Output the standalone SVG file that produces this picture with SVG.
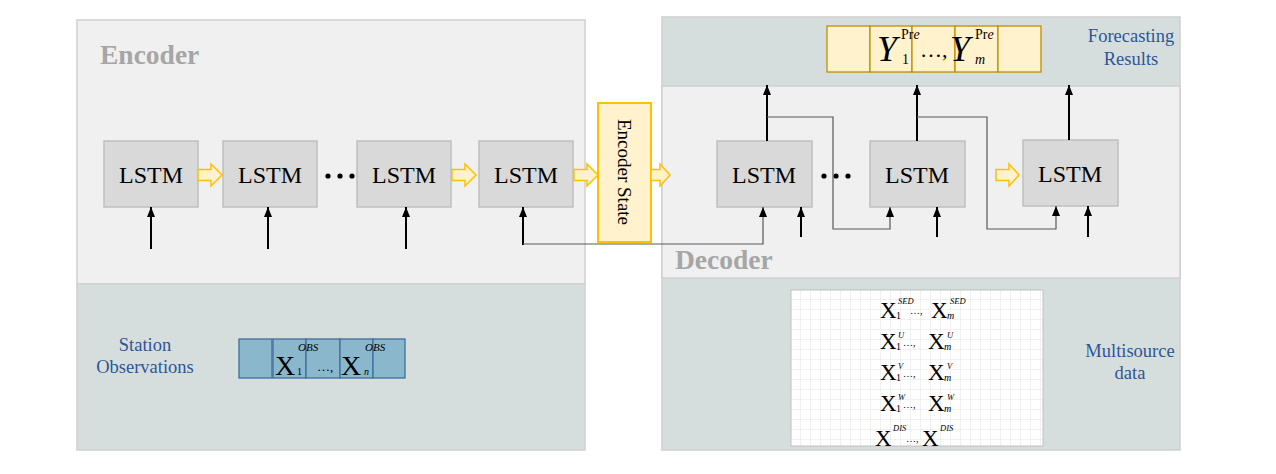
<svg xmlns="http://www.w3.org/2000/svg" width="1276" height="474" viewBox="0 0 1276 474">
<style>
.panel{fill:#f0f0f0;stroke:#d0d0d0;stroke-width:1.5}
.teal{fill:#d5dedd;stroke:#d0d0d0;stroke-width:1.5}
.lstm{fill:#d9d9d9;stroke:#bfbfbf;stroke-width:1.5}
.lt{font-family:"Liberation Serif",serif;font-size:24px;fill:#000;text-anchor:middle}
.title{font-family:"Liberation Serif",serif;font-size:27.5px;font-weight:bold;fill:#a6a6a6}
.blue{font-family:"Liberation Serif",serif;font-size:18.5px;fill:#2f5597;text-anchor:middle}
.yarrow{fill:#fff2cc;stroke:#ffc000;stroke-width:1.5}
.thick{stroke:#000;stroke-width:2;fill:none}
.thin{stroke:#595959;stroke-width:1.2;fill:none}
.m{font-family:"Liberation Serif",serif;fill:#000}
.it{font-style:italic}
.dot{fill:#000}
.X{font-size:23px}
.sb{font-size:10px}
.sp{font-size:8.5px;font-style:italic}
.el{font-size:10px}
</style>
<defs>
<marker id="ah" viewBox="0 0 10 8" refX="10" refY="4" markerUnits="userSpaceOnUse" markerWidth="11" markerHeight="8" orient="auto">
<path d="M0,0 L10,4 L0,8 z" fill="#000"/>
</marker>
<pattern id="grid" width="10" height="10" patternUnits="userSpaceOnUse" x="791" y="290">
<rect width="10" height="10" fill="#fff"/>
<path d="M10,0 L10,10 M0,10 L10,10" stroke="#e4e4e4" stroke-width="1" fill="none"/>
</pattern>
<clipPath id="msclip"><rect x="791" y="290" width="252" height="156"/></clipPath>
</defs>

<g id="encoder-panel">
<rect class="panel" x="77" y="20" width="508" height="264"/>
<text class="title" x="100" y="64">Encoder</text>
</g>
<g id="station-panel">
<rect class="teal" x="77" y="284" width="508" height="166"/>
<text class="blue" x="145" y="351">Station</text>
<text class="blue" x="145" y="373">Observations</text>
</g>
<g id="decoder-panel">
<rect class="teal" x="662" y="17" width="518" height="433"/>
<rect class="panel" x="662" y="86" width="518" height="192"/>
<text class="title" x="675" y="269">Decoder</text>
<text class="blue" x="1131" y="42">Forecasting</text>
<text class="blue" x="1131" y="65">Results</text>
<text class="blue" x="1130" y="357">Multisource</text>
<text class="blue" x="1130" y="379">data</text>
</g>

<g id="enc-lstm-1"><rect class="lstm" x="104" y="141" width="94" height="66"/><text class="lt" x="151" y="183">LSTM</text></g>
<g id="enc-lstm-2"><rect class="lstm" x="223" y="141" width="94" height="66"/><text class="lt" x="270" y="183">LSTM</text></g>
<g id="enc-lstm-3"><rect class="lstm" x="357" y="141" width="94" height="66"/><text class="lt" x="404" y="183">LSTM</text></g>
<g id="enc-lstm-4"><rect class="lstm" x="479" y="141" width="94" height="66"/><text class="lt" x="526" y="183">LSTM</text></g>
<g id="enc-dots"><circle class="dot" cx="328" cy="176" r="2.6"/><circle class="dot" cx="340" cy="176" r="2.6"/><circle class="dot" cx="352" cy="176" r="2.6"/></g>

<g id="encoder-state">
<rect x="598" y="103" width="53" height="139" fill="#fff2cc" stroke="#ffc000" stroke-width="2"/>
<text class="m" x="0" y="0" font-size="19" text-anchor="middle" transform="translate(618,172) rotate(90)">Encoder State</text>
</g>

<g id="dec-lstm-1"><rect class="lstm" x="717" y="141" width="95" height="66"/><text class="lt" x="764" y="183">LSTM</text></g>
<g id="dec-lstm-2"><rect class="lstm" x="870" y="141" width="95" height="66"/><text class="lt" x="917" y="183">LSTM</text></g>
<g id="dec-lstm-3"><rect class="lstm" x="1023" y="140" width="95" height="66"/><text class="lt" x="1070" y="182">LSTM</text></g>
<g id="dec-dots"><circle class="dot" cx="824" cy="176" r="2.6"/><circle class="dot" cx="836" cy="176" r="2.6"/><circle class="dot" cx="848" cy="176" r="2.6"/></g>

<g id="forecast-results">
<rect x="827" y="26" width="43" height="46" fill="#fff2cc" stroke="#bf9000" stroke-width="1.3"/>
<rect x="870" y="26" width="42" height="46" fill="#fff2cc" stroke="#bf9000" stroke-width="1.3"/>
<rect x="912" y="26" width="43" height="46" fill="#fff2cc" stroke="#bf9000" stroke-width="1.3"/>
<rect x="955" y="26" width="43" height="46" fill="#fff2cc" stroke="#bf9000" stroke-width="1.3"/>
<rect x="998" y="26" width="43" height="46" fill="#fff2cc" stroke="#bf9000" stroke-width="1.3"/>
<text class="m it" x="877" y="61" font-size="36">Y</text>
<text class="m" x="902" y="64" font-size="14">1</text>
<text class="m" x="901" y="39" font-size="14">Pr<tspan class="it">e</tspan></text>
<text class="m" x="920" y="57" font-size="22">…,</text>
<text class="m it" x="950" y="61" font-size="36">Y</text>
<text class="m it" x="975" y="64" font-size="14">m</text>
<text class="m" x="975" y="39" font-size="14">Pr<tspan class="it">e</tspan></text>
</g>

<g id="station-observations">
<rect x="239" y="339" width="33" height="39" fill="#8ab7cc" stroke="#3f6f9f" stroke-width="1.3"/>
<rect x="273" y="339" width="33" height="39" fill="#8ab7cc" stroke="#3f6f9f" stroke-width="1.3"/>
<rect x="306" y="339" width="34" height="39" fill="#8ab7cc" stroke="#3f6f9f" stroke-width="1.3"/>
<rect x="340" y="339" width="33" height="39" fill="#8ab7cc" stroke="#3f6f9f" stroke-width="1.3"/>
<rect x="373" y="339" width="32" height="39" fill="#8ab7cc" stroke="#3f6f9f" stroke-width="1.3"/>
<text class="m" x="275" y="375" font-size="28">X</text>
<text class="m" x="297" y="375" font-size="10">1</text>
<text class="m it" x="298" y="351" font-size="11">OBS</text>
<text class="m" x="317" y="371" font-size="13">…,</text>
<text class="m" x="341" y="375" font-size="28">X</text>
<text class="m it" x="364" y="375" font-size="10">n</text>
<text class="m it" x="365" y="351" font-size="11">OBS</text>
</g>

<g id="multisource-data">
<rect x="791" y="290" width="252" height="156" fill="url(#grid)" stroke="#c0c0c0" stroke-width="1"/>
<g clip-path="url(#msclip)">
<text class="m X" x="880" y="318">X</text><text class="m sb" x="896" y="319">1</text><text class="m sp" x="898" y="304">SED</text>
<text class="m el" x="910" y="314">…,</text>
<text class="m X" x="931" y="318">X</text><text class="m sb it" x="947" y="319">m</text><text class="m sp" x="950" y="304">SED</text>

<text class="m X" x="880" y="349">X</text><text class="m sb" x="896" y="350">1</text><text class="m sp" x="898" y="338">U</text>
<text class="m el" x="903" y="346">…,</text>
<text class="m X" x="928" y="349">X</text><text class="m sb it" x="944" y="350">m</text><text class="m sp" x="947" y="338">U</text>

<text class="m X" x="880" y="380">X</text><text class="m sb" x="896" y="381">1</text><text class="m sp" x="898" y="369">V</text>
<text class="m el" x="903" y="377">…,</text>
<text class="m X" x="928" y="380">X</text><text class="m sb it" x="944" y="381">m</text><text class="m sp" x="947" y="369">V</text>

<text class="m X" x="880" y="411">X</text><text class="m sb" x="896" y="412">1</text><text class="m sp" x="898" y="400">W</text>
<text class="m el" x="903" y="408">…,</text>
<text class="m X" x="928" y="411">X</text><text class="m sb it" x="944" y="412">m</text><text class="m sp" x="947" y="400">W</text>

<text class="m X" x="875" y="446">X</text><text class="m sp" x="893" y="431">DIS</text>
<text class="m el" x="906" y="442">…,</text>
<text class="m X" x="922" y="446">X</text><text class="m sp" x="940" y="431">DIS</text>
</g>
</g>

<g id="connectors">
<polygon class="yarrow" points="198,169.5 211,169.5 211,164 222,175 211,186 211,180.5 198,180.5"/>
<polygon class="yarrow" points="452,169.5 465,169.5 465,164 476,175 465,186 465,180.5 452,180.5"/>
<polygon class="yarrow" points="574,169.5 587,169.5 587,164 598,175 587,186 587,180.5 574,180.5"/>
<polygon class="yarrow" points="651,169.5 660,169.5 660,164 670,175 660,186 660,180.5 651,180.5"/>
<polygon class="yarrow" points="996,169.5 1009,169.5 1009,164 1019,175 1009,186 1009,180.5 996,180.5"/>

<line class="thick" x1="151" y1="249" x2="151" y2="207" marker-end="url(#ah)"/>
<line class="thick" x1="268" y1="249" x2="268" y2="207" marker-end="url(#ah)"/>
<line class="thick" x1="406" y1="249" x2="406" y2="207" marker-end="url(#ah)"/>
<line class="thick" x1="523" y1="245" x2="523" y2="207" marker-end="url(#ah)"/>
<polyline class="thin" points="523,244 763,244 763,207" marker-end="url(#ah)"/>

<line class="thick" x1="801" y1="237" x2="801" y2="207" marker-end="url(#ah)"/>
<line class="thick" x1="937" y1="237" x2="937" y2="207" marker-end="url(#ah)"/>
<line class="thick" x1="1088" y1="237" x2="1088" y2="206" marker-end="url(#ah)"/>

<line class="thick" x1="767" y1="141" x2="767" y2="85" marker-end="url(#ah)"/>
<line class="thick" x1="917" y1="141" x2="917" y2="85" marker-end="url(#ah)"/>
<line class="thick" x1="1069" y1="140" x2="1069" y2="85" marker-end="url(#ah)"/>

<polyline class="thin" points="767,117 833,117 833,229 890,229 890,207" marker-end="url(#ah)"/>
<polyline class="thin" points="917,117 987,117 987,229 1056,229 1056,206" marker-end="url(#ah)"/>
</g>
</svg>
